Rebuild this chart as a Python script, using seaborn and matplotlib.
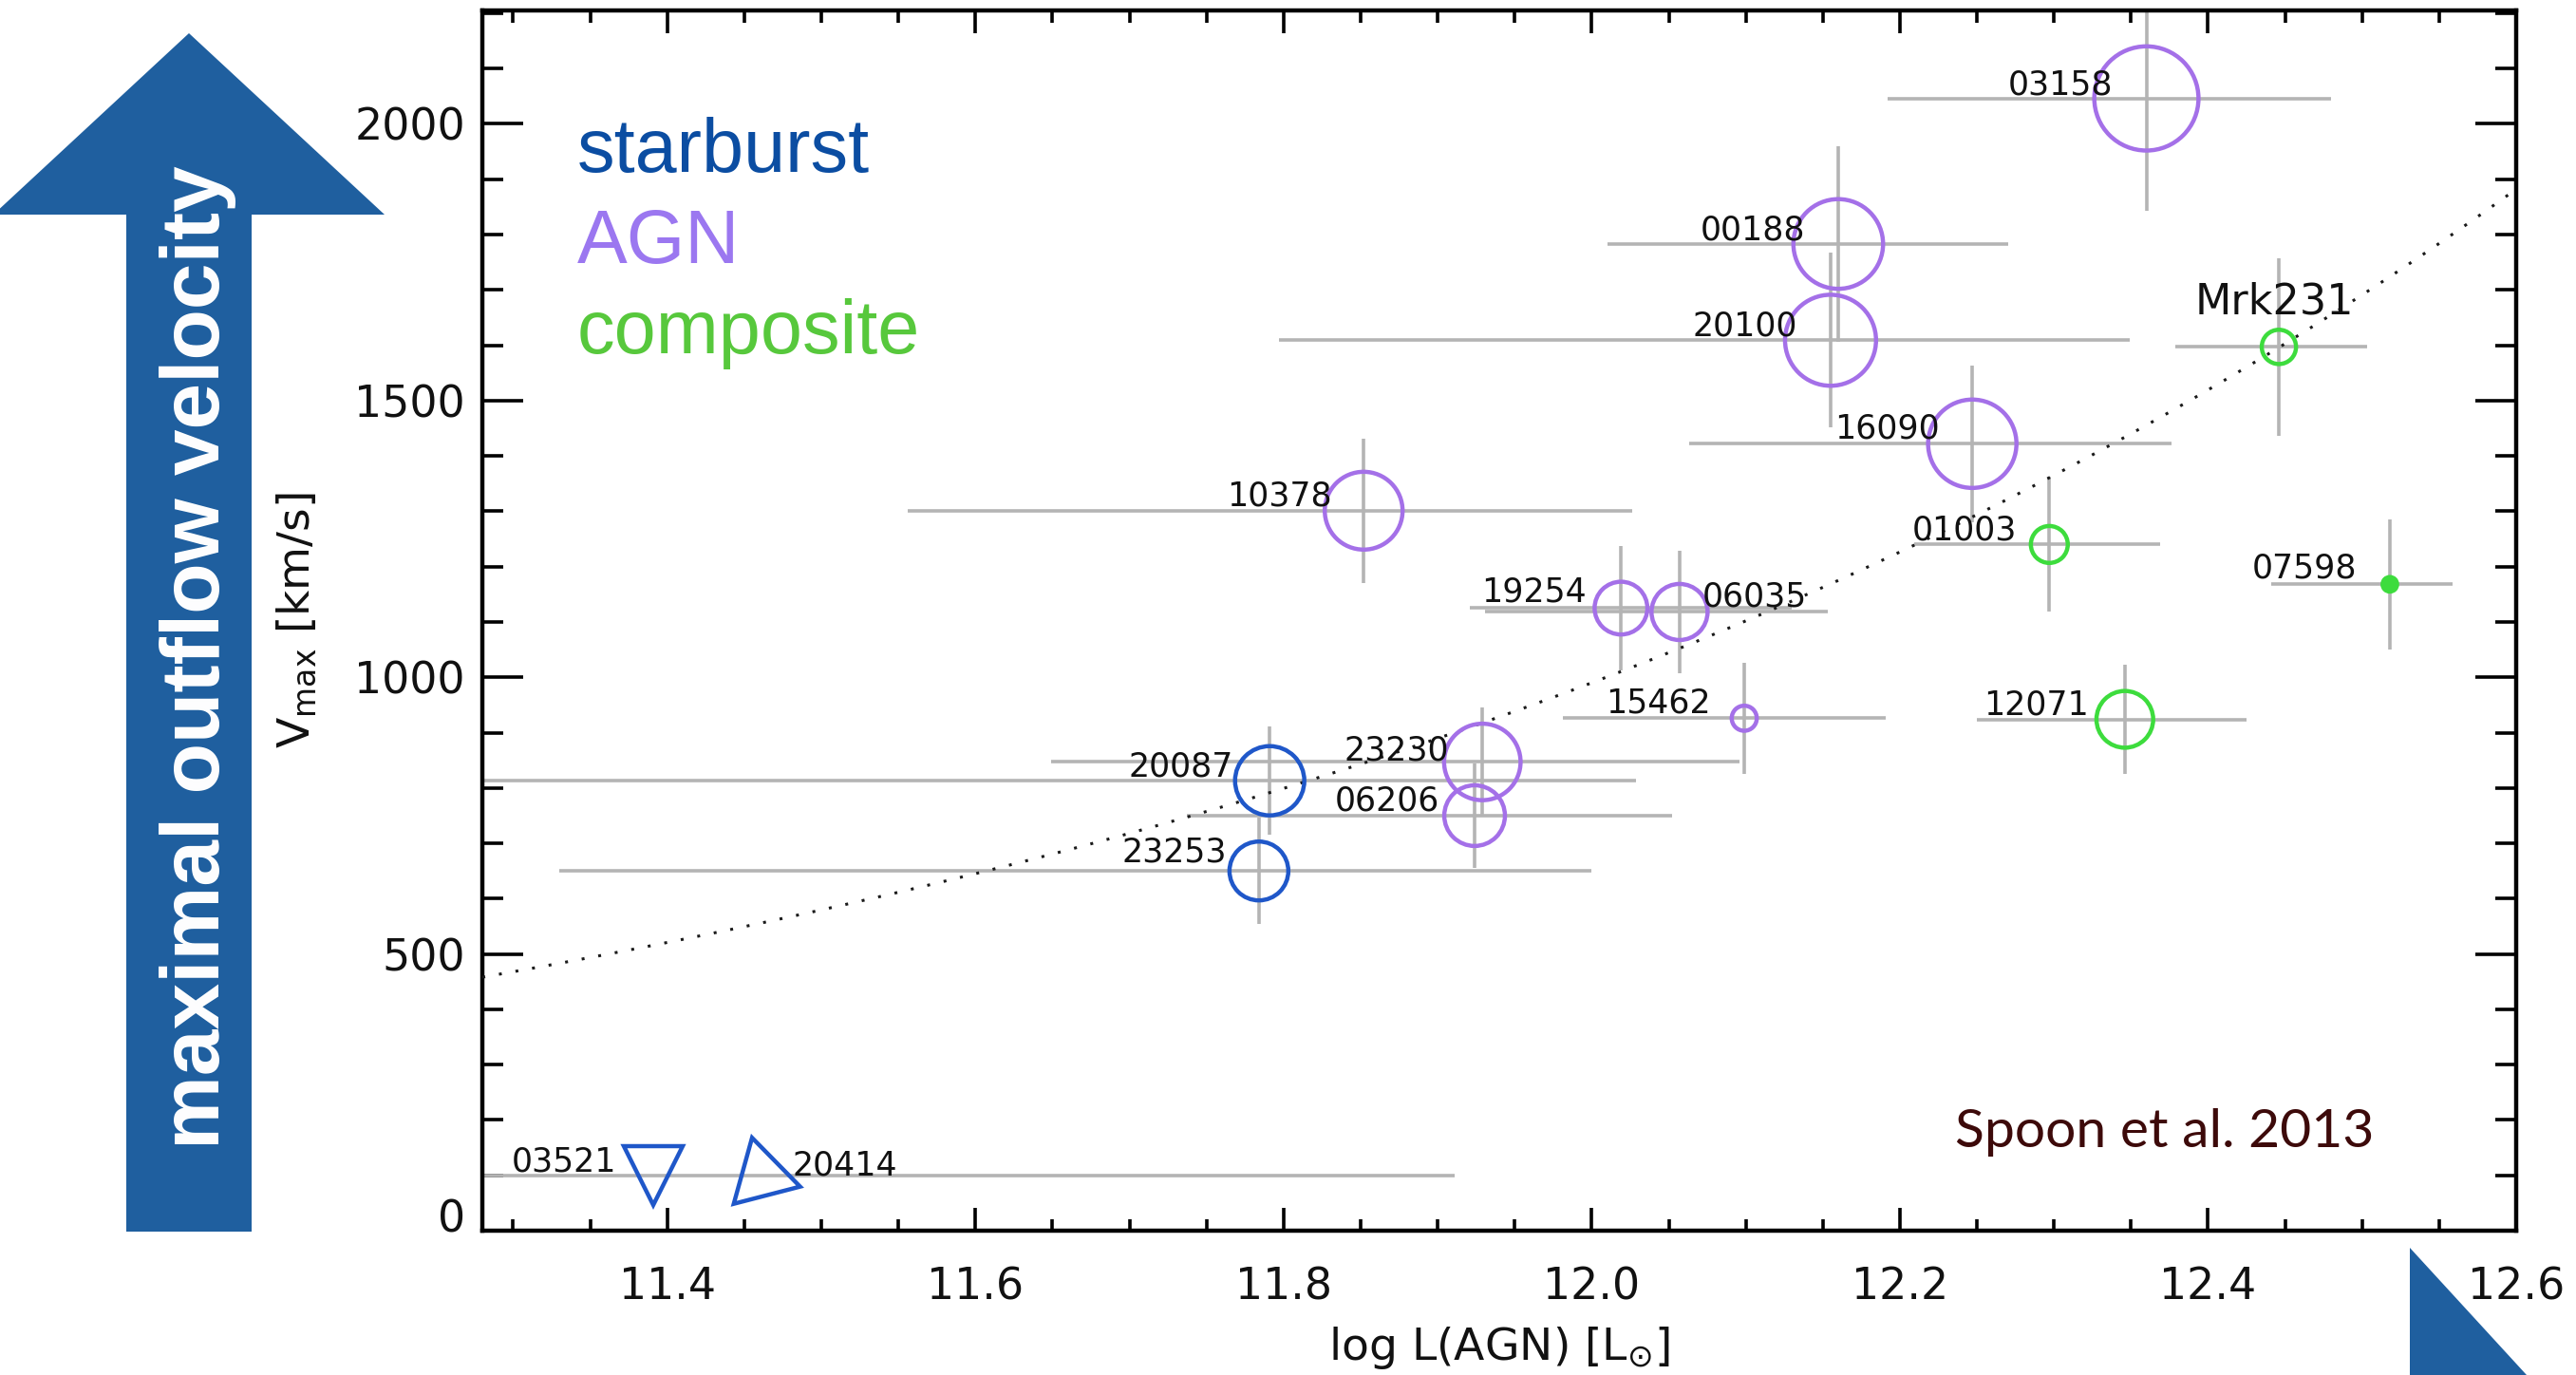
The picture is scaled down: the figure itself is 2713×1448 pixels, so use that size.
import numpy as np
import pandas as pd
import matplotlib
matplotlib.use("Agg")
import matplotlib.pyplot as plt
import seaborn as sns
from matplotlib.patches import Polygon
from matplotlib.ticker import FixedLocator, MultipleLocator, FormatStrFormatter
from matplotlib.transforms import ScaledTranslation

# ---------------- data ----------------
names = ["03158", "00188", "20100", "16090", "Mrk231", "01003", "07598",
         "19254", "06035", "10378", "15462", "12071", "23230", "20087",
         "23253", "06206", "03521", "20414"]
kind = ["AGN", "AGN", "AGN", "AGN", "composite", "composite", "composite",
        "AGN", "AGN", "AGN", "AGN", "composite", "AGN", "starburst",
        "starburst", "AGN", "starburst", "starburst"]
log_lagn = [12.360, 12.160, 12.155, 12.247, 12.446, 12.297, 12.518,
            12.019, 12.057, 11.852, 12.099, 12.346, 11.929, 11.791,
            11.784, 11.924, 11.391, 11.461]
log_lagn_lo = [12.192, 12.010, 11.797, 12.063, 12.379, 12.209, 12.441,
               11.921, 11.931, 11.556, 11.981, 12.250, 11.649, 11.200,
               11.330, 11.737, 11.200, np.nan]
log_lagn_hi = [12.480, 12.270, 12.349, 12.376, 12.503, 12.369, 12.559,
               12.130, 12.153, 12.026, 12.191, 12.425, 12.096, 12.029,
               12.000, 12.052, 11.911, np.nan]
vmax = [2046, 1783, 1609, 1422, 1597, 1240, 1168, 1125, 1118, 1301,
        926, 924, 847, 813, 650, 750, 100, 100]
vmax_err = [203, 177, 158, 142, 160, 122, 117, 112, 110, 130,
            100, 99, 98, 98, 96, 95, 0, 0]

# power-law fit  Vmax = fit_norm * (L / 1e12)^fit_slope
fit_norm = 990.0
fit_slope = 0.465

x_ticks = [11.4, 11.6, 11.8, 12.0, 12.2, 12.4, 12.6]
y_ticks = [0, 500, 1000, 1500, 2000]

# ---------------- styling ----------------
symbol = ["o"] * 16 + ["v", "rot"]
marker_diam = [79, 68, 69, 67, 26, 28, 11, 40, 42.5, 59, 19, 43, 58,
               52.5, 44.6, 46, 45, 60]          # points
filled = {"07598"}
kind_colors = {"starburst": "#1f57c9", "AGN": "#a470e8", "composite": "#3ddc3d"}
legend_colors = {"starburst": "#0b4da2", "AGN": "#9b77f0", "composite": "#57c83c"}
err_color = "#b4b4b4"
arrow_blue = "#1f5f9f"

# label offsets (points) and alignment
label_pos = {
    "03158": (-25.2, 3.2, "right"), "00188": (-25.2, 2.9, "right"),
    "20100": (-25.2, 3.6, "right"), "16090": (-25.0, 4.3, "right"),
    "Mrk231": (-3.6, 25.2, "center"), "01003": (-24.5, 3.6, "right"),
    "07598": (-25.2, 4.8, "right"), "19254": (-26.4, 4.8, "right"),
    "06035": (17.3, 4.1, "left"), "10378": (-23.8, 3.6, "right"),
    "15462": (-25.4, 4.3, "right"), "12071": (-27.0, 3.6, "right"),
    "23230": (-25.6, 1.7, "right"), "20087": (-27.4, 3.6, "right"),
    "23253": (-24.5, 7.2, "right"), "06206": (-26.4, 3.6, "right"),
    "03521": (-27.8, 3.4, "right"), "20414": (23.5, 0.0, "left"),
}

df = pd.DataFrame({"name": names, "kind": kind, "log_lagn": log_lagn,
                   "lo": log_lagn_lo, "hi": log_lagn_hi, "vmax": vmax,
                   "verr": vmax_err, "symbol": symbol, "diam": marker_diam})

sns.set_style("ticks")
plt.rcParams["font.family"] = ["DejaVu Sans"]
plt.rcParams["mathtext.fontset"] = "dejavusans"

W, H = 2713, 1448
fig = plt.figure(figsize=(W / 100, H / 100), dpi=100)
ax = fig.add_axes([508 / W, 152 / H, 2142 / W, 1285 / H])

# error bars
eb = df[df["lo"].notna()]
ax.errorbar(eb["log_lagn"], eb["vmax"],
            xerr=[eb["log_lagn"] - eb["lo"], eb["hi"] - eb["log_lagn"]],
            yerr=eb["verr"], fmt="none", ecolor=err_color,
            elinewidth=2.6, capsize=0, zorder=2)

# fitted relation
xs = np.linspace(11.28, 12.6, 300)
ax.plot(xs, fit_norm * 10 ** (fit_slope * (xs - 12.0)), color="#1a1a1a",
        lw=2.2, linestyle=(0, (1, 4.8)), zorder=3)

# circles
circ = df[df["symbol"] == "o"].reset_index(drop=True)
sns.scatterplot(data=circ, x="log_lagn", y="vmax", hue="kind",
                palette=kind_colors, size="name",
                sizes={n: d ** 2 for n, d in zip(circ["name"], circ["diam"])},
                marker="o", legend=False, ax=ax, zorder=5)
pc = ax.collections[-1]
cols = np.array([matplotlib.colors.to_rgba(kind_colors[k]) for k in circ["kind"]])
face = cols.copy()
face[:, 3] = [1.0 if n in filled else 0.0 for n in circ["name"]]
pc.set_facecolors(face)
pc.set_edgecolors(cols)
pc.set_linewidths(3.2)

# limit symbols
for _, r in df[df["symbol"] != "o"].iterrows():
    mk = "v" if r["symbol"] == "v" else (3, 0, 14.5)
    ax.plot([r["log_lagn"]], [r["vmax"]], marker=mk, ms=r["diam"],
            mfc="none", mec=kind_colors[r["kind"]], mew=3.2, zorder=5)

# object names
for _, r in df.iterrows():
    dx, dy, ha = label_pos[r["name"]]
    fs = 32 if r["name"] == "Mrk231" else 25
    ax.annotate(r["name"], (r["log_lagn"], r["vmax"]), xytext=(dx, dy),
                textcoords="offset points", ha=ha, va="baseline",
                fontsize=fs, color="#111111", zorder=6)

# axes
ax.set_xlim(11.28, 12.6)
ax.set_ylim(0, 2205)
ax.xaxis.set_major_locator(FixedLocator(x_ticks))
ax.xaxis.set_minor_locator(MultipleLocator(0.05))
ax.xaxis.set_major_formatter(FormatStrFormatter("%.1f"))
ax.yaxis.set_major_locator(FixedLocator(y_ticks))
ax.yaxis.set_minor_locator(MultipleLocator(100))
ax.tick_params(which="both", direction="in", top=True, right=True,
               width=2.6, color="black", labelcolor="#111111")
ax.tick_params(axis="x", which="major", length=17, pad=27, labelsize=33)
ax.tick_params(axis="x", which="minor", length=9)
ax.tick_params(axis="y", which="major", length=31, pad=13, labelsize=33)
ax.tick_params(axis="y", which="minor", length=16)
for s in ax.spines.values():
    s.set_linewidth(3.2)
    s.set_color("black")

ax.set_xlabel(r"log L(AGN) [L$_{\odot}$]", fontsize=34, va="baseline",
              color="#111111")
ax.xaxis.set_label_coords(0.5, -0.1058)
ax.set_ylabel(r"$\mathrm{V}_{\mathrm{max}}$ [km/s]", fontsize=34,
              color="#111111")
ax.yaxis.set_label_coords(-0.0803, 0.5)

# category key
for txt, yb in zip(["starburst", "AGN", "composite"], [181, 277, 372]):
    fig.text(608 / W, 1 - yb / H, txt, color=legend_colors[txt],
             fontsize=57, family=["Liberation Sans", "DejaVu Sans"],
             ha="left", va="baseline")

fig.text(2059 / W, 1 - 1208 / H, "Spoon et al. 2013", color="#3d0a0a",
         fontsize=41, family=["Lato", "DejaVu Sans"], ha="left", va="baseline")

# big arrow on the left
arrow_px = [(133, 1297), (133, 226), (-7, 226), (199, 35), (405, 226),
            (265, 226), (265, 1297)]
fig.patches.append(Polygon([(x / W, 1 - y / H) for x, y in arrow_px],
                           closed=True, transform=fig.transFigure,
                           facecolor=arrow_blue, edgecolor="none"))
fig.text(209 / W, 1 - 692 / H, "maximal outflow velocity", rotation=90,
         color="white", fontsize=63, fontweight="bold",
         family=["Liberation Sans", "DejaVu Sans"], ha="center", va="center")

corner_px = [(2538, 1314), (2538, 1460), (2672, 1460)]
fig.patches.append(Polygon([(x / W, 1 - y / H) for x, y in corner_px],
                           closed=True, transform=fig.transFigure,
                           facecolor=arrow_blue, edgecolor="none"))

# lift the "0" label clear of the bottom axis
fig.canvas.draw()
zero_lab = ax.yaxis.get_major_ticks()[0].label1
zero_lab.set_transform(zero_lab.get_transform()
                       + ScaledTranslation(0, 0.16, fig.dpi_scale_trans))

fig.savefig("out.png", dpi=100, facecolor="white")
